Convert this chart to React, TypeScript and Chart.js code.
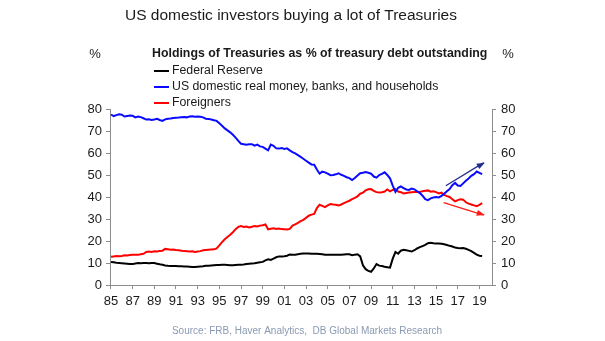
import React, { useEffect, useRef } from "react";
import { Chart, registerables } from "chart.js";

Chart.register(...registerables);

const START_YEAR = 1985; // quarterly observations, first = 1985 Q1

const fedReserve = [
  10.5, 10.3, 10.1, 10.0, 9.9, 9.8, 9.7, 9.6, 9.5, 9.8, 10.0, 9.9, 10.0, 10.0, 9.9, 10.0,
  10.0, 9.7, 9.4, 9.2, 8.9, 8.7, 8.6, 8.6, 8.6, 8.5, 8.5, 8.4, 8.4, 8.3, 8.2, 8.2,
  8.3, 8.4, 8.5, 8.7, 8.8, 8.9, 9.0, 9.1, 9.1, 9.2, 9.2, 9.1, 9.0, 9.0, 9.1, 9.2,
  9.2, 9.3, 9.5, 9.7, 9.8, 9.9, 10.1, 10.3, 10.5, 11.2, 11.7, 11.4, 12.0, 12.6, 13.0, 13.0,
  13.1, 13.3, 13.9, 13.7, 13.8, 14.0, 14.2, 14.3, 14.3, 14.3, 14.2, 14.2, 14.2, 14.1, 14.0, 13.8,
  13.8, 13.7, 13.8, 13.7, 13.7, 13.8, 13.9, 14.0, 14.0, 13.5, 13.8, 14.0, 13.0, 9.0, 7.2, 6.4,
  6.0, 7.5, 9.5, 8.8, 8.6, 8.3, 8.1, 7.9, 12.0, 15.0, 14.2, 15.6, 16.0, 15.8, 15.5, 15.2,
  15.8, 16.6, 17.2, 17.7, 18.2, 19.0, 19.2, 19.0, 18.9, 18.9, 18.7, 18.5, 18.2, 17.8, 17.5, 17.0,
  16.8, 16.7, 16.8, 16.5, 16.0, 15.4, 14.6, 13.8, 13.3, 13.2,
];

const usDomestic = [
  77.5, 76.8, 77.2, 77.6, 77.4, 76.6, 76.8, 77.0, 76.9, 76.2, 76.6, 76.3, 75.8, 75.2, 75.3, 75.0,
  75.2, 75.5, 75.0, 74.6, 75.3, 75.6, 75.7, 75.9, 76.0, 76.1, 76.3, 76.4, 76.2, 76.6, 76.7, 76.5,
  76.6, 76.5, 76.2, 75.6, 75.5, 75.2, 74.9, 74.6, 73.5, 72.4, 71.2, 70.3, 69.4, 68.3, 67.0, 65.5,
  64.2, 64.0, 63.8, 64.0, 64.0, 63.3, 63.8, 63.0, 62.8, 62.0, 61.2, 63.8, 63.3, 62.1, 62.0, 62.3,
  61.8, 62.1, 61.2, 60.4, 59.8, 59.0, 58.2, 57.4, 56.5, 55.6, 54.8, 54.7, 52.5, 50.6, 51.5, 51.2,
  50.6, 49.9, 50.0, 50.3, 50.8, 50.1, 49.6, 49.0, 48.6, 47.7, 48.6, 49.8, 50.8, 51.0, 51.3, 51.0,
  50.6, 49.3, 48.8, 50.0, 50.5, 51.2, 50.0, 48.5, 45.2, 42.3, 44.2, 44.8, 44.0, 43.4, 43.2, 43.8,
  43.5, 42.6, 41.8, 40.6, 39.0, 38.6, 39.4, 39.8, 40.0, 39.8, 40.5, 41.5, 42.6, 43.6, 45.4, 46.4,
  45.2, 45.0, 46.2, 47.4, 48.4, 49.6, 50.4, 51.6, 51.0, 50.4,
];

const foreigners = [
  12.8, 13.0, 13.2, 13.1, 13.2, 13.5, 13.4, 13.6, 13.7, 13.8, 13.7, 14.0, 14.2, 15.0, 15.2, 15.0,
  15.3, 15.2, 15.5, 15.6, 16.4, 16.2, 16.0, 16.1, 15.9, 15.8, 15.6, 15.4, 15.3, 15.2, 15.3, 15.0,
  15.2, 15.4, 15.8, 15.9, 16.0, 16.1, 16.2, 16.6, 18.0, 19.5, 20.8, 21.8, 22.8, 24.0, 25.4, 26.4,
  26.8, 26.4, 26.6, 26.2, 26.5, 26.8, 26.6, 27.0, 27.2, 27.5, 25.3, 25.6, 25.8, 25.5, 25.7, 25.4,
  25.3, 25.2, 25.5, 27.0, 27.6, 28.2, 29.0, 29.6, 30.5, 31.5, 32.0, 32.3, 35.0, 36.5, 36.0, 35.4,
  36.2, 36.8, 36.6, 36.5, 36.2, 36.6, 37.2, 37.8, 38.3, 39.0, 39.6, 40.3, 41.5, 42.0, 43.0, 43.5,
  43.6, 42.8, 42.2, 42.0, 42.2, 42.5, 43.4, 42.6, 43.2, 43.6, 42.5, 42.2, 41.6, 41.8, 42.0, 42.2,
  42.3, 42.4, 42.3, 42.6, 42.8, 43.0, 42.4, 42.6, 42.2, 41.6, 42.0, 41.0, 40.4, 40.0, 39.0, 38.0,
  38.6, 39.0, 38.8, 37.6, 37.0, 36.6, 36.2, 35.8, 36.4, 37.2,
];

// Trend arrows: [year, value] start and end
const blueArrow = [[2015.9, 45.1], [2019.4, 55.6]];
const redArrow = [[2015.7, 37.4], [2019.4, 31.8]];

const xTickYears = [1985, 1987, 1989, 1991, 1993, 1995, 1997, 1999, 2001, 2003, 2005, 2007, 2009, 2011, 2013, 2015, 2017, 2019];
const yTicks = [0, 10, 20, 30, 40, 50, 60, 70, 80];

const TITLE = "US domestic investors buying a lot of Treasuries";
const SUBTITLE = "Holdings of Treasuries as % of treasury debt outstanding";
const SOURCE = "Source: FRB, Haver Analytics,  DB Global Markets Research";
const SERIES_NAMES = ["Federal Reserve", "US domestic real money, banks, and households", "Foreigners"];
const SERIES_COLORS = ["#000000", "#0a0aff", "#ff0000"];
const ARROW_COLORS = ["#1f2f8f", "#ff1a1a"];

const FONT = '"Liberation Sans", Arial, sans-serif';

const toPoints = (arr: number[]) => arr.map((v, i) => ({ x: START_YEAR + i / 4, y: v }));
const pairToPoints = (arr: number[][]) => arr.map(([x, y]) => ({ x, y }));

const overlayPlugin = {
  id: "overlay",
  afterDatasetsDraw(chart: any) {
    const ctx = chart.ctx;
    ctx.save();
    chart.data.datasets.forEach((ds: any, i: number) => {
      if (!ds.isArrow) return;
      const pts = chart.getDatasetMeta(i).data;
      const a = pts[pts.length - 2];
      const b = pts[pts.length - 1];
      const ang = Math.atan2(b.y - a.y, b.x - a.x);
      const len = 7;
      const w = 3;
      ctx.fillStyle = ds.borderColor;
      ctx.beginPath();
      ctx.moveTo(b.x + 1, b.y);
      ctx.lineTo(b.x - len * Math.cos(ang) + w * Math.sin(ang), b.y - len * Math.sin(ang) - w * Math.cos(ang));
      ctx.lineTo(b.x - len * Math.cos(ang) - w * Math.sin(ang), b.y - len * Math.sin(ang) + w * Math.cos(ang));
      ctx.closePath();
      ctx.fill();
    });
    ctx.restore();
  },
  afterDraw(chart: any) {
    const ctx = chart.ctx;
    ctx.save();
    ctx.textBaseline = "middle";
    ctx.fillStyle = "#1a1a1a";
    ctx.font = `15.5px ${FONT}`;
    ctx.textAlign = "left";
    ctx.fillText(TITLE, 125, 16);

    ctx.font = `13px ${FONT}`;
    ctx.textAlign = "center";
    ctx.fillText("%", 95, 54);
    ctx.fillText("%", 508, 54);

    ctx.font = `bold 12.35px ${FONT}`;
    ctx.textAlign = "left";
    ctx.fillText(SUBTITLE, 152, 54);

    ctx.font = `12.3px ${FONT}`;
    const rows = [71, 87, 103];
    SERIES_NAMES.forEach((name, i) => {
      ctx.strokeStyle = SERIES_COLORS[i];
      ctx.lineWidth = 2;
      ctx.beginPath();
      ctx.moveTo(154, rows[i]);
      ctx.lineTo(169, rows[i]);
      ctx.stroke();
      ctx.fillStyle = "#1a1a1a";
      ctx.fillText(name, 172, rows[i]);
    });

    ctx.font = `10px ${FONT}`;
    ctx.fillStyle = "#8a9ab2";
    ctx.textAlign = "center";
    ctx.fillText(SOURCE, 307, 331);
    ctx.restore();
  },
};

export default function App() {
  const canvasRef = useRef<HTMLCanvasElement | null>(null);

  useEffect(() => {
    document.body.style.margin = "0";
    const canvas = canvasRef.current;
    if (!canvas) return;
    const axisColor = "#8c8c8c";
    const tickFont = { family: FONT, size: 13 };
    const chart = new Chart(canvas, {
      type: "line",
      data: {
        datasets: [
          { label: SERIES_NAMES[0], data: toPoints(fedReserve), borderColor: SERIES_COLORS[0], borderWidth: 2, pointRadius: 0, tension: 0, yAxisID: "y" },
          { label: SERIES_NAMES[1], data: toPoints(usDomestic), borderColor: SERIES_COLORS[1], borderWidth: 2, pointRadius: 0, tension: 0, yAxisID: "y" },
          { label: SERIES_NAMES[2], data: toPoints(foreigners), borderColor: SERIES_COLORS[2], borderWidth: 2, pointRadius: 0, tension: 0, yAxisID: "y" },
          { label: "arrow1", data: pairToPoints(blueArrow), borderColor: ARROW_COLORS[0], borderWidth: 1.3, pointRadius: 0, yAxisID: "y", isArrow: true } as any,
          { label: "arrow2", data: pairToPoints(redArrow), borderColor: ARROW_COLORS[1], borderWidth: 1.3, pointRadius: 0, yAxisID: "y", isArrow: true } as any,
        ],
      },
      options: {
        responsive: false,
        animation: false,
        devicePixelRatio: 1,
        layout: { padding: { top: 109, left: 0, right: 0, bottom: 0 } },
        plugins: { legend: { display: false }, title: { display: false }, tooltip: { enabled: false } },
        scales: {
          x: {
            type: "linear",
            min: 1984.91,
            max: 2020.16,
            afterBuildTicks: (scale: any) => {
              scale.ticks = xTickYears.map((v) => ({ value: v }));
            },
            afterFit: (scale: any) => {
              scale.height = 56;
            },
            ticks: {
              autoSkip: false,
              maxRotation: 0,
              padding: 5,
              color: "#1a1a1a",
              font: tickFont,
              callback: (v: any) => String(v).slice(2),
            },
            grid: { drawOnChartArea: false, drawTicks: true, tickLength: 4, color: axisColor },
            border: { display: true, color: axisColor },
          },
          y: {
            position: "left",
            min: 0,
            max: 80,
            afterBuildTicks: (scale: any) => {
              scale.ticks = yTicks.map((v) => ({ value: v }));
            },
            afterFit: (scale: any) => {
              scale.width = 110;
            },
            ticks: { padding: 4, color: "#1a1a1a", font: tickFont },
            grid: { drawOnChartArea: false, drawTicks: true, tickLength: 4, color: axisColor },
            border: { display: true, color: axisColor },
          },
          y2: {
            position: "right",
            min: 0,
            max: 80,
            afterBuildTicks: (scale: any) => {
              scale.ticks = yTicks.map((v) => ({ value: v }));
            },
            afterFit: (scale: any) => {
              scale.width = 113;
            },
            ticks: { padding: 5, color: "#1a1a1a", font: tickFont },
            grid: { drawOnChartArea: false, drawTicks: true, tickLength: 4, color: axisColor },
            border: { display: true, color: axisColor },
          },
        },
      },
      plugins: [overlayPlugin],
    } as any);
    return () => chart.destroy();
  }, []);

  return (
    <div style={{ width: 605, height: 341, background: "#ffffff" }}>
      <canvas ref={canvasRef} width={605} height={341} />
    </div>
  );
}
